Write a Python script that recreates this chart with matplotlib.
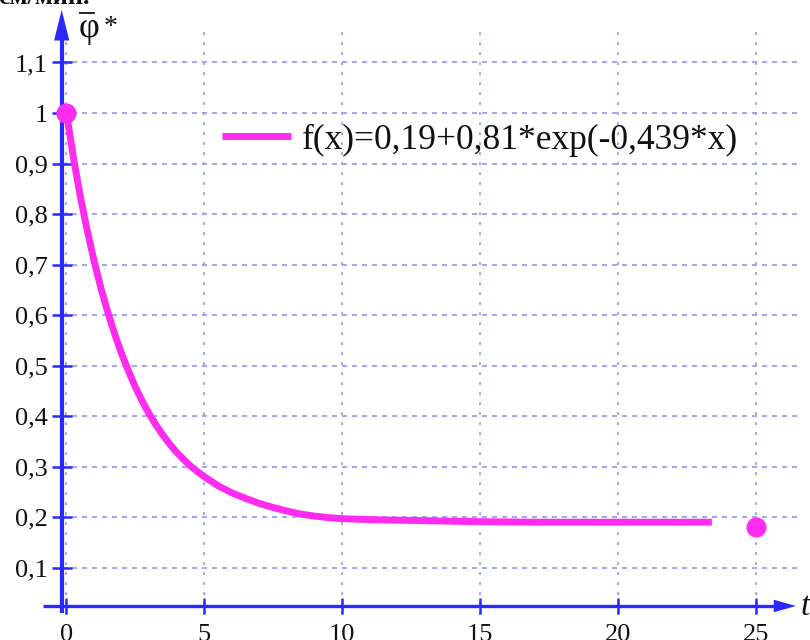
import matplotlib
matplotlib.use("Agg")
import matplotlib.pyplot as plt
from matplotlib.lines import Line2D

plt.rcParams['font.family'] = ['Liberation Serif', 'DejaVu Serif']
plt.rcParams['lines.scale_dashes'] = False

# values
t_read = [0.00, 0.25, 0.50, 0.75, 1.00, 1.25, 1.50, 1.75, 2.00, 2.25, 2.50,
          2.75, 3.00, 3.25, 3.50, 3.75, 4.00, 4.25, 4.50, 4.75, 5.00, 5.50,
          6.00, 6.50, 7.00, 7.50, 8.00, 8.50, 9.00, 9.50, 10.0, 11.0, 12.0,
          13.0, 14.0, 15.0, 17.0, 20.0, 23.4]
phi_read = [1.000, 0.912, 0.835, 0.768, 0.707, 0.653, 0.605, 0.562, 0.523,
            0.489, 0.457, 0.429, 0.404, 0.382, 0.362, 0.344, 0.328, 0.314,
            0.301, 0.290, 0.280, 0.262, 0.248, 0.237, 0.227, 0.219, 0.212,
            0.206, 0.202, 0.199, 0.197, 0.195, 0.194, 0.193, 0.192, 0.191,
            0.190, 0.190, 0.190]
pts_t = [0, 25]
pts_phi = [1.0, 0.18]

xticks = [0, 5, 10, 15, 20, 25]
xlabels = ['0', '5', '10', '15', '20', '25']
yticks = [0.1, 0.2, 0.3, 0.4, 0.5, 0.6, 0.7, 0.8, 0.9, 1.0, 1.1]
ylabels = ['0,1', '0,2', '0,3', '0,4', '0,5', '0,6', '0,7', '0,8', '0,9', '1', '1,1']
legend_label = 'f(x)=0,19+0,81*exp(-0,439*x)'

blue = '#2a2aff'
grid_c = '#9c9cf2'
pink = '#ff2cf0'
ink = '#111111'

fig = plt.figure(figsize=(8.1, 6.4), dpi=100)
ax = fig.add_axes([0, 0, 1, 1])
ax.set_xlim(-2.411, 26.958)
ax.set_ylim(-0.0432, 1.2237)
ax.axis('off')

# dotted grid
ax.hlines(yticks, -0.17, 26.6, colors=grid_c, lw=1.3, linestyles=[(0, (3.6, 3.6))], zorder=1)
ax.vlines(xticks, 0.006, 1.174, colors=grid_c, lw=1.3, linestyles=[(0, (2.0, 5.2))], zorder=1)

# axes with arrows
ax.plot([-0.174, -0.174], [0.010, 1.17], color=blue, lw=3, zorder=3, solid_capstyle='butt')
ax.annotate('', xy=(-0.174, 1.204), xytext=(-0.174, 1.15),
            arrowprops=dict(arrowstyle='-|>,head_length=2.2,head_width=0.55',
                            mutation_scale=10, color=blue, lw=0,
                            shrinkA=0, shrinkB=0), zorder=3)
ax.plot([-0.85, 26.0], [0.0241, 0.0241], color=blue, lw=2.4, zorder=3, solid_capstyle='butt')
ax.annotate('', xy=(26.45, 0.0241), xytext=(25.6, 0.0241),
            arrowprops=dict(arrowstyle='-|>,head_length=1.6,head_width=0.45',
                            mutation_scale=10, color=blue, lw=0,
                            shrinkA=0, shrinkB=0), zorder=3)

# tick marks
ax.hlines(yticks, -0.52, 0.2, colors=blue, lw=1.8, zorder=3)
ax.vlines(xticks, 0.008, 0.040, colors=blue, lw=1.8, zorder=3)

# tick labels
for v, s in zip(yticks, ylabels):
    ax.text(-0.67, v, s, ha='right', va='center_baseline', fontsize=19, color=ink)
for v, s in zip(xticks, xlabels):
    ax.text(v, -0.0115, s, ha='center', va='top', fontsize=19, color=ink)

# curve and end points
ax.plot(t_read, phi_read, color=pink, lw=5, solid_capstyle='butt',
        solid_joinstyle='round', zorder=4, label=legend_label)
ax.plot(pts_t, pts_phi, 'o', color=pink, ms=13.5, zorder=5)

leg = ax.legend(loc='center left', bbox_to_anchor=(222 / 810, 1 - 140 / 640),
                frameon=False, fontsize=25.5, handlelength=1.95, handletextpad=0.3,
                borderpad=0, borderaxespad=0)
for t in leg.get_texts():
    t.set_color(ink)

# axis names
ax.text(79 / 810, 1 - 37 / 640, 'φ', transform=ax.transAxes,
        fontsize=26, ha='left', va='baseline', color=ink)
fig.add_artist(Line2D([80 / 810, 94 / 810], [1 - 12.5 / 640, 1 - 12.5 / 640],
                      color=ink, lw=1.3))
ax.text(104 / 810, 1 - 34 / 640, '*', transform=ax.transAxes,
        fontsize=20, ha='left', va='baseline', color=ink)
ax.text(801 / 810, 1 - 615 / 640, 't', transform=ax.transAxes,
        fontsize=24, style='italic', ha='left', va='baseline', color=ink)
fig.text(-0.002, 1 - 4 / 640, 'см/мин.', fontsize=19, fontweight='bold',
         ha='left', va='baseline', color=ink)

fig.savefig('out.png', dpi=100)
